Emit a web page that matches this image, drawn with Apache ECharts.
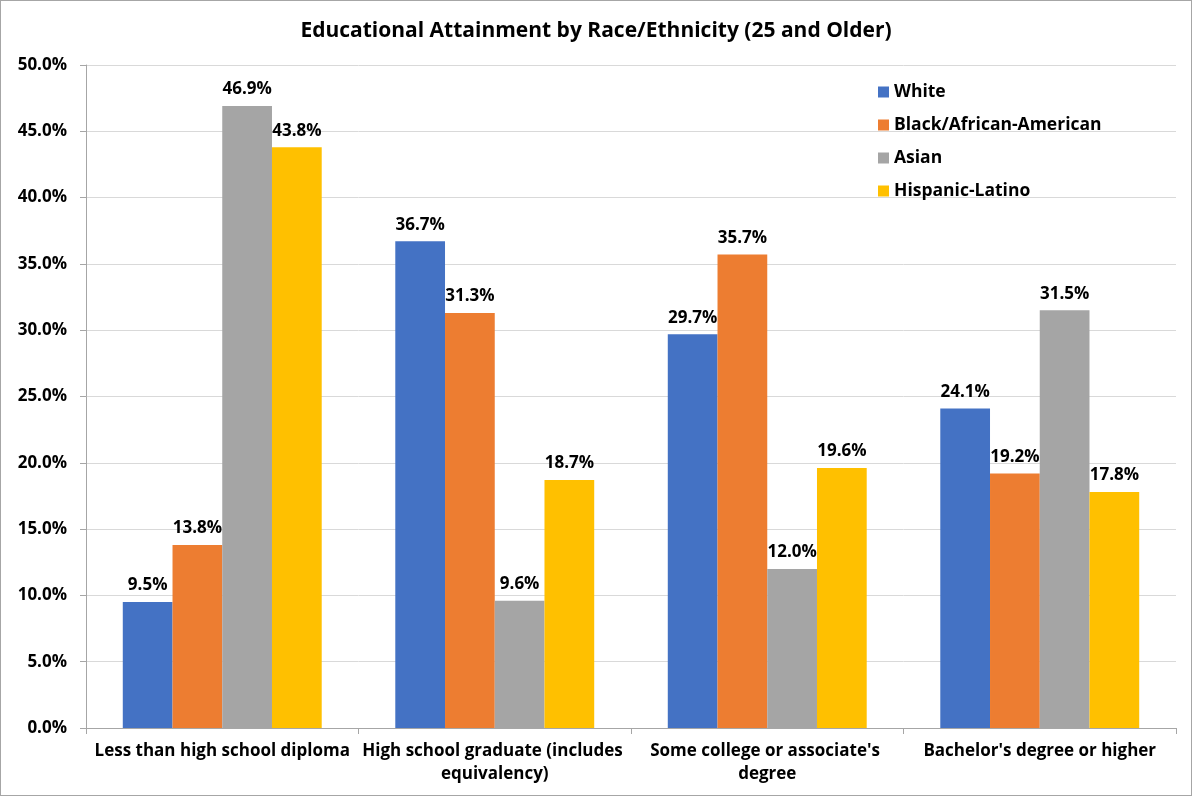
<!DOCTYPE html>
<html><head><meta charset="utf-8">
<script src="https://cdn.jsdelivr.net/npm/echarts@6/dist/echarts.min.js"></script>
<style>html,body{margin:0;padding:0;background:#fff}#c{width:1190px;height:794px;border:1px solid #a6a6a6}</style>
</head><body><div id="c"></div>
<script>
const categories = ["Less than high school diploma","High school graduate (includes equivalency)","Some college or associate's degree","Bachelor's degree or higher"];
const seriesNames = ["White","Black/African-American","Asian","Hispanic-Latino"];
const white = [9.5, 36.7, 29.7, 24.1];
const black = [13.8, 31.3, 35.7, 19.2];
const asian = [46.9, 9.6, 12.0, 31.5];
const hispanic = [43.8, 18.7, 19.6, 17.8];
const colors = ["#4472C4","#ED7D31","#A5A5A5","#FFC000"];
const values = [white, black, asian, hispanic];
const FONT = "Open Sans";
const chart = echarts.init(document.getElementById('c'));
chart.setOption({
  animation:false,
  textStyle:{fontFamily:FONT},
  title:{text:"Educational Attainment by Race/Ethnicity (25 and Older)",left:'center',top:15,
    textStyle:{fontFamily:FONT,fontSize:21,fontWeight:'bold',color:'#000'}},
  legend:{orient:'vertical',left:872,top:74,itemGap:9,itemWidth:11,itemHeight:11,icon:'rect',
    textStyle:{fontFamily:FONT,fontSize:17.5,fontWeight:'bold',color:'#000',lineHeight:24},data:seriesNames},
  grid:{left:85,right:15,top:64,bottom:67,containLabel:false},
  xAxis:{type:'category',data:categories,
    axisLine:{lineStyle:{color:'#a6a6a6'}},
    axisTick:{show:true,length:6,lineStyle:{color:'#a6a6a6'}},
    axisLabel:{fontFamily:FONT,fontSize:17,fontWeight:'bold',color:'#000',margin:12,width:268,overflow:'break',lineHeight:23,interval:0}},
  yAxis:{type:'value',min:0,max:50,interval:5,
    axisLine:{show:true,lineStyle:{color:'#a6a6a6'}},
    axisTick:{show:true,length:6,lineStyle:{color:'#a6a6a6'}},
    splitLine:{lineStyle:{color:'#d9d9d9'}},
    axisLabel:{fontFamily:FONT,fontSize:17,fontWeight:'bold',color:'#000',margin:19,formatter:v=>v.toFixed(1)+'%'}},
  series: seriesNames.map((n,i)=>({name:n,type:'bar',data:values[i],barGap:'0%',barCategoryGap:'27%',
    itemStyle:{color:colors[i]},
    label:{show:true,position:'top',distance:8,fontFamily:FONT,fontSize:17,fontWeight:'bold',color:'#000',formatter:p=>p.value.toFixed(1)+'%'}}))
});
</script></body></html>
